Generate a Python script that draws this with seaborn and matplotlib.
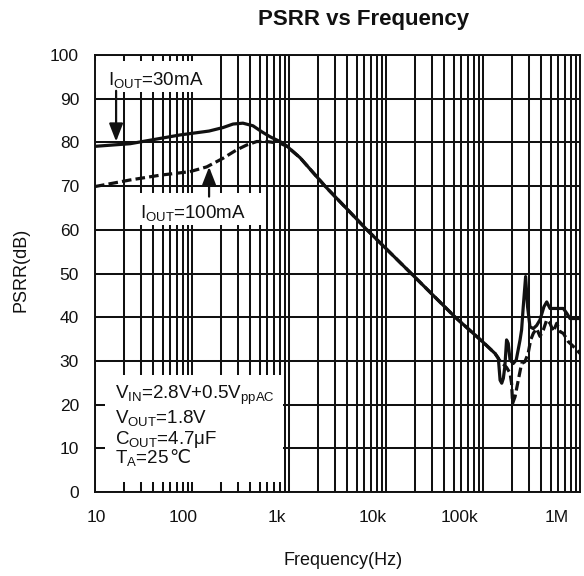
import numpy as np
import pandas as pd
import matplotlib
matplotlib.use("Agg")
import matplotlib.pyplot as plt
import matplotlib.transforms as mtransforms
import seaborn as sns
from matplotlib.patches import Rectangle
from matplotlib.ticker import FixedLocator, FixedFormatter, LogLocator, NullFormatter

# ---------------- data ----------------
freq_30mA = [10, 23, 75, 150, 209, 265, 335, 425, 527, 637, 807, 977, 1000, 1300,
             2350, 6360, 18200, 51700, 100000, 133000, 144000, 150000, 156000,
             162000, 168000, 175000, 182000, 190000, 205000, 220000, 241000,
             250000, 260000, 275000, 288000, 305000, 330000, 357000, 387000,
             425000, 454000, 491000, 575000, 673000, 730000, 789000, 1000000]
psrr_30mA = [79.1, 79.7, 81.7, 82.6, 83.4, 84.2, 84.4, 83.8, 82.4, 81.3, 80.2, 79.0,
             78.7, 76.5, 70.0, 60.0, 50.0, 40.0, 34.3, 31.7, 30.6, 25.6, 24.9,
             26.0, 28.7, 34.8, 34.0, 30.2, 29.4, 30.2, 34.8,
             37.1, 42.4, 49.3, 42.4, 37.8, 37.4, 38.1, 39.4,
             42.4, 43.5, 42.0, 42.0, 42.0, 40.9, 39.7, 39.7]

freq_100mA = [10, 23, 47, 95, 142, 210, 289, 366, 465, 589, 807, 977, 1000, 1300,
              2350, 6360, 18200, 51700, 100000, 133000, 150000, 175000, 190000,
              197000, 202000, 214000, 231000, 250000, 270000, 292000, 310000,
              330000, 357000, 387000, 419000, 454000, 491000, 531000, 575000,
              622000, 673000, 758000, 855000, 1000000]
psrr_100mA = [69.9, 71.4, 72.5, 73.3, 74.4, 76.4, 78.3, 79.4, 80.2, 80.2, 79.8, 79.0,
              78.7, 76.5, 70.0, 60.0, 50.0, 40.0, 34.3, 31.7, 30.0, 28.5, 27.2,
              24.9, 20.3, 21.8, 25.6, 29.4, 29.8, 31.7, 34.8,
              36.3, 37.4, 35.6, 37.1, 39.4, 38.6, 36.7, 38.6,
              36.7, 36.3, 34.4, 33.3, 31.7]

series_names = ["30mA", "100mA"]
x_tick_values = [10, 100, 1e3, 1e4, 1e5, 1e6]
x_tick_labels = ["10", "100", "1k", "10k", "100k", "1M"]
y_tick_values = list(range(0, 101, 10))

title = "PSRR vs Frequency"
x_label = "Frequency(Hz)"
y_label = "PSRR(dB)"
label_30 = r"I$_{\mathrm{OUT}}$=30mA"
label_100 = r"I$_{\mathrm{OUT}}$=100mA"
cond_lines = [r"V$_{\mathrm{IN}}$=2.8V+0.5V$_{\mathrm{ppAC}}$",
              r"V$_{\mathrm{OUT}}$=1.8V",
              r"C$_{\mathrm{OUT}}$=4.7μF",
              r"T$_{\mathrm{A}}$=25"]
cond_suffix = "℃"

# horizontal nudges (pixels) of the x tick labels, as placed in the reference
x_label_nudge_px = [1.5, -9, -12, -13, -23, -23]

# ---------------- style ----------------
sns.set_theme(style="white")
plt.rcParams["font.family"] = ["Liberation Sans", "DejaVu Sans"]
plt.rcParams["mathtext.fontset"] = "custom"
plt.rcParams["mathtext.rm"] = "Liberation Sans"
plt.rcParams["mathtext.it"] = "Liberation Sans:italic"
plt.rcParams["mathtext.bf"] = "Liberation Sans:bold"
plt.rcParams["mathtext.sf"] = "Liberation Sans"
INK = "#111111"

fig = plt.figure(figsize=(5.84, 5.76), dpi=100)
ax = fig.add_axes([95 / 584, 1 - 492 / 576, 485 / 584, 437 / 576])

df = pd.concat([
    pd.DataFrame({"freq": freq_30mA, "psrr": psrr_30mA, "series": series_names[0]}),
    pd.DataFrame({"freq": freq_100mA, "psrr": psrr_100mA, "series": series_names[1]}),
], ignore_index=True)

sns.lineplot(data=df, x="freq", y="psrr", style="series", style_order=series_names,
             dashes={series_names[0]: "", series_names[1]: (3, 1.3)},
             color=INK, linewidth=2.3, estimator=None, sort=False, legend=False,
             ax=ax, zorder=3)

ax.set_xscale("log")
ax.set_xlim(x_tick_values[0], x_tick_values[-1])
ax.set_ylim(0, 100)
ax.xaxis.set_major_locator(FixedLocator(x_tick_values))
ax.xaxis.set_major_formatter(FixedFormatter(x_tick_labels))
ax.xaxis.set_minor_locator(LogLocator(base=10, subs=np.arange(2, 10)))
ax.xaxis.set_minor_formatter(NullFormatter())
ax.set_yticks(y_tick_values)

ax.grid(True, which="both", axis="x", color="#111111", linewidth=1.45)
ax.grid(True, which="major", axis="y", color="#111111", linewidth=1.45)
ax.set_axisbelow(True)
ax.tick_params(which="both", length=0)
ax.tick_params(axis="y", pad=11.5, labelsize=12.5, labelcolor=INK)
ax.tick_params(axis="x", pad=13, labelsize=12.5, labelcolor=INK)
for s in ax.spines.values():
    s.set_color(INK)
    s.set_linewidth(1.4)
    s.set_visible(True)

for tk, dx in zip(ax.xaxis.get_major_ticks(), x_label_nudge_px):
    tk.label1.set_horizontalalignment("center")
    tk.label1.set_transform(tk.label1.get_transform() +
                            mtransforms.ScaledTranslation(dx / 100, 0, fig.dpi_scale_trans))

ax.set_xlabel(x_label, fontsize=13, color=INK)
ax.set_ylabel(y_label, fontsize=13, color=INK)
ax.xaxis.set_label_coords(0.511, -0.137)
ax.yaxis.set_label_coords(-0.136, 0.508)

fig.text(364 / 584, 1 - 20 / 576, title, ha="center", va="center",
         fontsize=16, fontweight="bold", color=INK)

# ---------------- white label boxes over the grid ----------------
def white_box(x0, x1, y0, y1, left, right, bottom, top):
    (X0, Y0) = ax.transData.transform((x0, y0))
    (X1, Y1) = ax.transData.transform((x1, y1))
    inv = ax.transData.inverted()
    a = inv.transform((X0 + left, Y0 + bottom))
    b = inv.transform((X1 - right, Y1 - top))
    ax.add_patch(Rectangle((a[0], a[1]), b[0] - a[0], b[1] - a[1],
                           facecolor="white", edgecolor="none", zorder=1))

white_box(10, 200, 90, 100, 0, 1.5, 7, 6)
white_box(20, 600, 60, 70, 1.5, 1.5, 5, 7)
white_box(10, 900, 0, 30, 10, 1.5, 10, 14)

# ---------------- annotations ----------------
txt_kw = dict(fontsize=13.5, color=INK, va="baseline", ha="left", zorder=4)
ax.text(13.7, 93.1, label_30, **txt_kw)
ax.text(29.1, 62.6, label_100, **txt_kw)

arrow_kw = dict(arrowstyle="-|>,head_length=0.9,head_width=0.35", color=INK,
                lw=1.6, mutation_scale=12, shrinkA=0, shrinkB=0)
ax.annotate("", xy=(16.5, 80.2), xytext=(16.5, 91.8), arrowprops=arrow_kw, zorder=4)
ax.annotate("", xy=(150, 74.4), xytext=(150, 67.6), arrowprops=arrow_kw, zorder=4)

baselines = [21.2, 15.9, 11.0, 6.6]
last = None
for line, yb in zip(cond_lines, baselines):
    last = ax.text(16.1, yb, line, **txt_kw)
ax.annotate(cond_suffix, xy=(1, baselines[-1]), xycoords=(last, "data"),
            fontsize=13.5, color=INK, va="baseline", ha="left", zorder=4,
            annotation_clip=False)

fig.savefig("out.png", dpi=100)
